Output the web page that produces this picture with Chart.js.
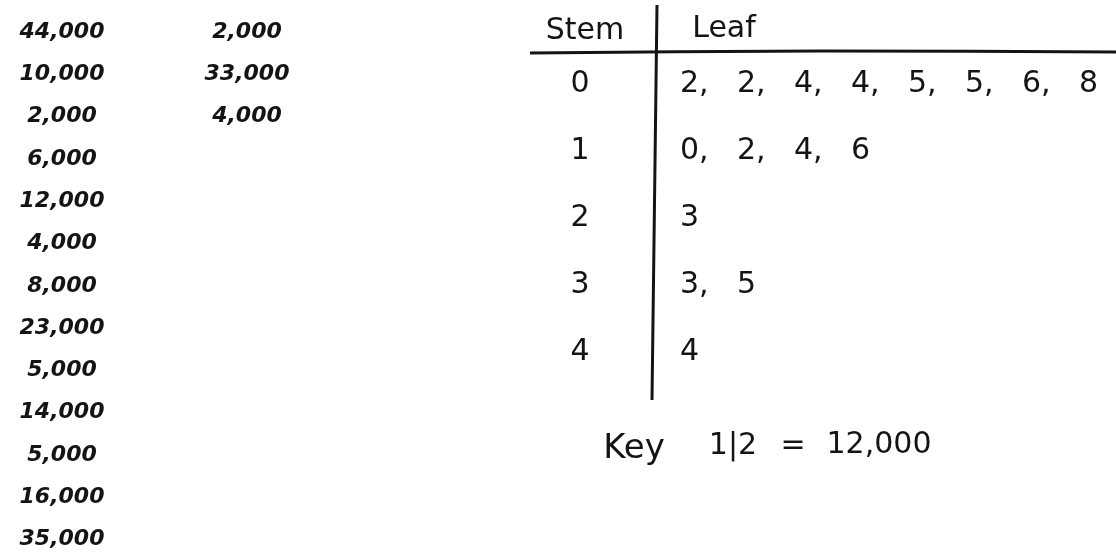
<!DOCTYPE html>
<html>
<head>
<meta charset="utf-8">
<script src="https://cdn.jsdelivr.net/npm/chart.js@4/dist/chart.umd.min.js"></script>
<style>
  html, body { margin: 0; padding: 0; background: #fff; }
  #wrap { width: 1116px; height: 553px; }
</style>
</head>
<body>
<div id="wrap"><canvas id="plot" width="1116" height="553"></canvas></div>
<script>
// raw list, written in two columns
const listCol1 = [44000, 10000, 2000, 6000, 12000, 4000, 8000, 23000, 5000, 14000, 5000, 16000, 35000];
const listCol2 = [2000, 33000, 4000];

// stem and leaf table (thousands)
const headers = ["Stem", "Leaf"];
const stems = [0, 1, 2, 3, 4];
const leaves = [
  [2, 2, 4, 4, 5, 5, 6, 8],
  [0, 2, 4, 6],
  [3],
  [3, 5],
  [4],
];
const keyStem = 1;
const keyLeaf = 2;
const keyValue = 12000;

const ink = "#141414";
const listFont = "italic bold 22px 'DejaVu Sans'";
const handFont = "30px 'DejaVu Sans'";

const fmt = (v) => v.toLocaleString("en-US");

// points for the list columns (x in px, y in row index)
const col1Pts = listCol1.map((v, i) => ({ x: 62, y: i }));
const col2Pts = listCol2.map((v, i) => ({ x: 247, y: i }));

// stems: x in px, y in stem units
const stemPts = stems.map((s) => ({ x: 580, y: s }));
const leafPts = [];
const leafTexts = [];
leaves.forEach((row, r) => {
  row.forEach((lf, j) => {
    leafPts.push({ x: j, y: stems[r] });
    leafTexts.push(String(lf) + (j < row.length - 1 ? "," : ""));
  });
});

const textDs = (pts, texts, font, align, xAxis, yAxis) => ({
  type: "scatter",
  data: pts,
  texts: texts,
  textFont: font,
  textAlign: align,
  xAxisID: xAxis,
  yAxisID: yAxis,
  pointRadius: 0,
  pointHoverRadius: 0,
});

const lineDs = (pts) => ({
  type: "line",
  data: pts,
  xAxisID: "x",
  yAxisID: "yPx",
  borderColor: ink,
  borderWidth: 3,
  pointRadius: 0,
  tension: 0.3,
  fill: false,
});

const handText = {
  id: "handText",
  afterDatasetsDraw(chart) {
    const ctx = chart.ctx;
    chart.data.datasets.forEach((ds, i) => {
      if (!ds.texts) return;
      const meta = chart.getDatasetMeta(i);
      ctx.save();
      ctx.font = ds.textFont;
      ctx.fillStyle = ink;
      ctx.textAlign = ds.textAlign;
      ctx.textBaseline = "middle";
      meta.data.forEach((pt, j) => ctx.fillText(ds.texts[j], pt.x, pt.y));
      ctx.restore();
    });
  },
};

new Chart(document.getElementById("plot"), {
  data: {
    datasets: [
      textDs(col1Pts, listCol1.map(fmt), listFont, "center", "x", "yList"),
      textDs(col2Pts, listCol2.map(fmt), listFont, "center", "x", "yList"),
      textDs([{ x: 585, y: 31 }, { x: 724, y: 29 }], headers, handFont, "center", "x", "yPx"),
      textDs(stemPts, stems.map(String), handFont, "center", "x", "yStem"),
      textDs(leafPts, leafTexts, handFont, "left", "xLeaf", "yStem"),
      textDs([{ x: 634, y: 449 }], ["Key"], "34px 'DejaVu Sans'", "center", "x", "yPx"),
      textDs(
        [{ x: 733, y: 446 }, { x: 793, y: 446 }, { x: 879, y: 445 }],
        [keyStem + "|" + keyLeaf, "=", fmt(keyValue)],
        handFont, "center", "x", "yPx"
      ),
      lineDs([{ x: 530, y: 53 }, { x: 820, y: 51 }, { x: 1116, y: 52 }]),
      lineDs([{ x: 657, y: 5 }, { x: 652, y: 400 }]),
    ],
  },
  options: {
    responsive: false,
    animation: false,
    events: [],
    layout: { padding: 0 },
    plugins: { legend: { display: false }, tooltip: { enabled: false } },
    scales: {
      x: { type: "linear", display: false, min: 0, max: 1116 },
      xLeaf: { type: "linear", display: false, min: -680 / 57, max: (1116 - 680) / 57 },
      yPx: { type: "linear", display: false, reverse: true, min: 0, max: 553 },
      yList: { type: "linear", display: false, reverse: true, min: -32 / 42.3, max: (553 - 32) / 42.3 },
      yStem: { type: "linear", display: false, reverse: true, min: -84 / 67, max: (553 - 84) / 67 },
    },
  },
  plugins: [handText],
});
</script>
</body>
</html>
